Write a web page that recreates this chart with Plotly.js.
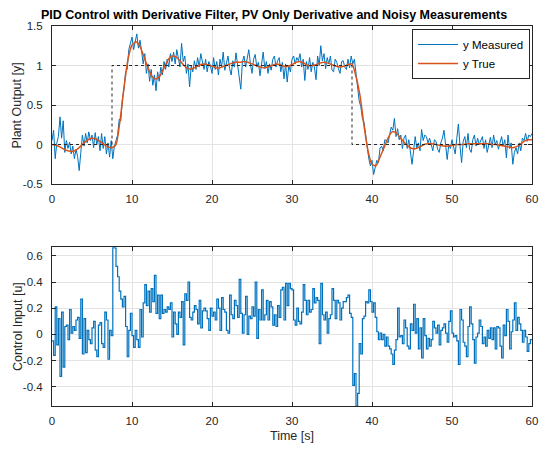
<!DOCTYPE html>
<html>
<head>
<meta charset="utf-8">
<script src="https://cdn.plot.ly/plotly-3.0.1.min.js"></script>
<style>
  html, body { margin: 0; padding: 0; background: #fff; }
  #chart { width: 556px; height: 452px; }
</style>
</head>
<body>
<div id="chart"></div>
<script>
// Sample period of the logged signals (s)
const dt = 0.2;
// Period of the true plant output samples (s)
const dtTrue = 0.5;

// Measured plant output, one row per second (5 samples each)
const yMeasured = [
  0.05, 0.18, -0.18, 0.02, 0.10,
  0.35, 0.08, 0.30, -0.10, 0.05,
  -0.05, 0.03, -0.12, -0.02, -0.18,
  -0.06, -0.15, -0.33, -0.10, 0.12,
  -0.02, 0.14, 0.02, 0.16, 0.05,
  0.12, -0.04, 0.15, 0.00, 0.10,
  -0.08, 0.14, -0.05, 0.10, -0.12,
  0.02, -0.16, 0.05, -0.18, -0.02,
  0.05, 0.12, 0.32, 0.30, 0.58,
  0.70, 0.92, 0.95, 1.20, 1.28,
  1.36, 1.20, 1.33, 1.40, 1.22,
  1.32, 1.18, 1.02, 1.15, 0.90,
  1.02, 0.80, 0.95, 0.75, 0.88,
  0.68, 0.92, 0.80, 0.98, 0.88,
  1.05, 0.95, 1.08, 0.98, 1.15,
  1.05, 1.17, 1.02, 1.20, 1.08,
  0.98, 1.28, 1.05, 1.12, 0.90,
  1.02, 0.73, 1.00, 0.92, 1.06,
  0.95, 1.10, 0.98, 1.15, 1.02,
  0.95, 1.08, 0.92, 1.05, 1.00,
  0.90, 1.10, 0.95, 1.05, 0.88,
  1.08, 0.98, 1.17, 0.94, 1.02,
  1.12, 0.96, 0.88, 1.06, 0.98,
  1.16, 1.00, 0.90, 0.70, 1.05,
  1.12, 0.98, 1.10, 1.20, 1.02,
  0.90, 1.08, 1.14, 0.98, 1.04,
  0.87, 1.00, 1.17, 0.96, 1.05,
  0.90, 1.02, 0.94, 1.08, 1.12,
  0.98, 1.06, 1.10, 0.92, 1.04,
  0.83, 1.02, 0.79, 1.00, 0.92,
  1.08, 1.12, 1.02, 1.10, 1.06,
  1.15, 0.98, 1.08, 0.81, 1.05,
  0.95, 1.10, 0.92, 1.04, 0.98,
  0.82, 1.12, 1.00, 1.25, 1.06,
  1.15, 0.96, 1.10, 1.02, 1.12,
  0.94, 0.92, 1.08, 1.04, 0.96,
  0.90, 1.05, 1.06, 0.98, 0.95,
  1.08, 0.97, 1.12, 1.02, 1.08,
  0.90, 0.78, 0.55, 0.48, 0.33,
  0.28, 0.12, -0.05, -0.18, -0.27,
  -0.20, -0.38, -0.27, -0.20, -0.23,
  -0.05, -0.02, -0.08, 0.06, 0.05,
  0.02, 0.12, 0.22, 0.18, 0.33,
  0.10, 0.20, 0.06, 0.12, -0.05,
  0.08, 0.12, -0.05, 0.06, -0.10,
  -0.25, -0.08, 0.10, -0.05, 0.02,
  -0.08, 0.19, 0.05, 0.12, 0.10,
  0.02, 0.08, -0.02, -0.08, 0.06,
  0.04, -0.06, -0.10, 0.02, 0.08,
  0.18, -0.04, -0.19, 0.00, -0.05,
  0.06, -0.04, -0.12, 0.08, 0.26,
  -0.02, -0.23, 0.04, 0.10, -0.04,
  0.14, -0.06, -0.10, 0.06, 0.12,
  -0.02, 0.08, 0.00, 0.04, 0.10,
  -0.05, 0.06, -0.10, 0.02, 0.09,
  -0.04, 0.12, 0.00, 0.05, -0.06,
  0.04, 0.10, -0.02, 0.06, -0.17,
  0.12, -0.05, 0.02, -0.25, -0.10,
  -0.04, -0.12, 0.02, -0.08, 0.08,
  0.05, 0.14, 0.04, 0.12, 0.10,
  0.14
];

// True (noise-free) plant output, two samples per second
const yTrue = [
  0.00, -0.01, -0.03, -0.06, -0.08, -0.09, -0.07, -0.03, 0.02, 0.06,
  0.08, 0.07, 0.04, 0.00, -0.03, -0.04, 0.00, 0.30, 0.72, 1.08,
  1.26, 1.30, 1.24, 1.11, 0.97, 0.86, 0.83, 0.87, 0.97, 1.07,
  1.12, 1.11, 1.06, 1.00, 0.96, 0.96, 0.98, 1.01, 1.02, 1.01,
  0.99, 0.97, 0.97, 0.99, 1.01, 1.03, 1.04, 1.04, 1.05, 1.04,
  1.02, 1.00, 0.98, 0.97, 0.98, 1.00, 1.02, 1.01, 0.99, 0.99,
  1.01, 1.04, 1.05, 1.03, 1.00, 1.00, 1.01, 1.03, 1.04, 1.03,
  1.01, 0.99, 0.98, 0.99, 1.01, 1.02, 0.86, 0.62, 0.24, -0.08,
  -0.25, -0.27, -0.16, -0.04, 0.08, 0.16, 0.15, 0.09, 0.03, -0.02,
  -0.05, -0.05, -0.03, 0.00, 0.01, 0.01, 0.00, -0.01, -0.02, -0.02,
  -0.01, 0.00, 0.00, 0.00, 0.01, 0.01, 0.01, 0.01, 0.01, 0.01,
  0.00, 0.00, -0.01, -0.02, -0.03, -0.04, -0.03, 0.00, 0.04, 0.06,
  0.06
];

// Setpoint profile (step up at 7.5 s, step down at 37.5 s)
const setpointTime = [0, 7.5, 7.5, 37.5, 37.5, 60];
const setpointValue = [0, 0, 1, 1, 0, 0];

// Controller output u, one row per second (5 samples each)
const controlInput = [
  -0.05, -0.16, 0.21, -0.08, 0.12,
  -0.32, 0.17, -0.25, 0.06, 0.07,
  -0.04, 0.19, 0.01, 0.06, 0.03,
  0.11, 0.13, -0.03, 0.27, -0.15,
  0.12, -0.14, 0.03, -0.04, -0.07,
  0.05, 0.10, -0.12, -0.17, 0.07,
  0.09, -0.07, -0.10, 0.17, 0.11,
  -0.19, 0.03, -0.01, 0.665, 0.66,
  0.52, 0.44, 0.33, 0.27, 0.21,
  0.29, 0.06, -0.17, 0.03, 0.16,
  -0.01, -0.10, 0.03, -0.04, -0.10,
  0.19, -0.02, 0.24, 0.38, 0.22,
  0.33, 0.17, 0.35, 0.25, 0.45,
  0.16, 0.30, 0.12, 0.30, 0.16,
  0.19, 0.17, 0.21, 0.19, 0.24,
  -0.02, 0.17, 0.08, 0.00, 0.17,
  0.13, 0.25, -0.08, 0.31, 0.26,
  0.40, 0.13, 0.11, 0.17, 0.22,
  0.19, 0.08, 0.26, 0.05, 0.18,
  0.20, 0.18, 0.12, 0.03, 0.20,
  0.14, 0.17, 0.11, 0.27, 0.20,
  0.03, 0.28, 0.19, 0.17, 0.03,
  0.01, 0.30, 0.15, 0.12, 0.26,
  0.22, 0.13, 0.42, 0.16, 0.01,
  0.15, 0.29, 0.00, 0.14, 0.12,
  0.21, 0.14, 0.40, -0.03, 0.19,
  0.11, 0.34, 0.11, 0.15, 0.26,
  0.11, 0.25, 0.21, 0.07, 0.15,
  0.06, 0.22, 0.13, 0.34, 0.36,
  0.11, 0.39, 0.22, 0.39, 0.35,
  0.34, 0.11, 0.07, 0.20, 0.10,
  0.08, 0.17, 0.38, 0.26, 0.15,
  0.26, 0.17, 0.19, 0.35, 0.24,
  0.28, 0.26, -0.07, 0.39, 0.15,
  0.11, 0.17, 0.01, 0.12, 0.15,
  0.35, 0.26, 0.12, 0.26, 0.24,
  0.11, 0.20, 0.25, 0.25, 0.28,
  0.30, 0.16, 0.13, -0.39, -0.30,
  -0.547, -0.45, -0.07, -0.15, 0.12,
  0.14, 0.25, 0.24, 0.34, 0.25,
  0.17, 0.24, 0.13, 0.02, -0.04,
  0.01, -0.04, 0.00, -0.09, -0.02,
  -0.09, -0.11, -0.15, -0.23, -0.12,
  -0.04, 0.20, -0.02, -0.01, -0.07,
  0.11, 0.05, -0.09, -0.11, 0.08,
  0.03, 0.23, 0.01, 0.12, -0.11,
  0.05, -0.18, 0.12, -0.01, -0.11,
  -0.03, -0.09, -0.04, 0.10, 0.05,
  0.01, 0.07, -0.08, 0.03, 0.05,
  0.08, 0.01, -0.06, 0.10, 0.18,
  0.01, -0.02, -0.01, -0.05, -0.23,
  0.19, 0.11, -0.06, -0.09, -0.17,
  0.06, 0.21, 0.08, -0.04, -0.22,
  -0.02, 0.01, 0.11, 0.06, -0.07,
  -0.02, -0.09, 0.03, -0.03, 0.05,
  -0.04, 0.05, -0.11, 0.06, 0.05,
  -0.09, -0.18, 0.07, -0.01, 0.19,
  0.10, -0.11, 0.02, 0.11, 0.24,
  0.03, 0.13, 0.08, 0.03, -0.06,
  0.03, -0.02, -0.13, -0.07, -0.04,
  -0.04
];

// Axis tick labels
const timeTicks = [0, 10, 20, 30, 40, 50, 60];
const timeTickText = ['0', '10', '20', '30', '40', '50', '60'];
const outputTicks = [-0.5, 0, 0.5, 1, 1.5];
const outputTickText = ['-0.5', '0', '0.5', '1', '1.5'];
const inputTicks = [-0.4, -0.2, 0, 0.2, 0.4, 0.6];
const inputTickText = ['-0.4', '-0.2', '0', '0.2', '0.4', '0.6'];

// Time bases for the sampled series
const time = yMeasured.map((_, i) => +(i * dt).toFixed(2));
const timeTrue = yTrue.map((_, i) => +(i * dtTrue).toFixed(2));
const timeInput = controlInput.map((_, i) => +(i * dt).toFixed(2));

const BLUE = '#0072BD';
const ORANGE = '#D95319';
const INK = '#262626';
const GRID = '#e3e3e3';
const FONT = 'Liberation Sans, Arial, Helvetica, sans-serif';
const TICK_SIZE = 11.5;
const LABEL_SIZE = 12.5;

// Domains of the two stacked axes (fractions of the plotting area)
const topDomain = [0.5842, 1];
const bottomDomain = [0, 0.4176];

const traces = [
  {
    x: time, y: yMeasured, name: 'y Measured', type: 'scatter', mode: 'lines',
    line: { color: BLUE, width: 1 }, xaxis: 'x', yaxis: 'y'
  },
  {
    x: timeTrue, y: yTrue, name: 'y True', type: 'scatter', mode: 'lines',
    line: { color: ORANGE, width: 1.5, shape: 'spline', smoothing: 0.6 }, xaxis: 'x', yaxis: 'y'
  },
  {
    x: setpointTime, y: setpointValue, name: 'Setpoint', type: 'scatter', mode: 'lines',
    line: { color: INK, width: 1, dash: 'dot' }, showlegend: false, xaxis: 'x', yaxis: 'y'
  },
  {
    x: timeInput, y: controlInput, name: 'u', type: 'scatter', mode: 'lines',
    line: { color: BLUE, width: 1.2, shape: 'hv' }, showlegend: false, xaxis: 'x2', yaxis: 'y2'
  }
];

const axisCommon = {
  showline: true, linecolor: INK, linewidth: 1, mirror: 'ticks',
  ticks: 'inside', ticklen: 4, tickcolor: INK, tickwidth: 1,
  showgrid: true, gridcolor: GRID, gridwidth: 1, zeroline: false,
  tickfont: { family: FONT, size: TICK_SIZE, color: INK }
};

// Vertical axis titles, centred on each axis
const yTitle = (text, domain) => ({
  text: text, textangle: -90, showarrow: false,
  xref: 'paper', yref: 'paper', x: -0.072, y: (domain[0] + domain[1]) / 2,
  xanchor: 'center', yanchor: 'middle',
  font: { family: FONT, size: LABEL_SIZE, color: INK }
});

const layout = {
  width: 556, height: 452,
  margin: { l: 52, r: 24, t: 26, b: 46 },
  paper_bgcolor: '#ffffff', plot_bgcolor: '#ffffff',
  font: { family: FONT, size: TICK_SIZE, color: INK },
  title: {
    text: '<b>PID Control with Derivative Filter, PV Only Derivative and Noisy Measurements</b>',
    font: { family: FONT, size: 12.5, color: '#000000' },
    x: 0.493, xanchor: 'center', xref: 'container',
    y: 0.967, yanchor: 'middle', yref: 'container'
  },
  xaxis: Object.assign({}, axisCommon, {
    domain: [0, 1], anchor: 'y', range: [0, 60], ticklabelstandoff: 4,
    tickvals: timeTicks, ticktext: timeTickText
  }),
  yaxis: Object.assign({}, axisCommon, {
    domain: topDomain, anchor: 'x', range: [-0.5, 1.5], ticklabelstandoff: 6,
    tickvals: outputTicks, ticktext: outputTickText
  }),
  xaxis2: Object.assign({}, axisCommon, {
    domain: [0, 1], anchor: 'y2', range: [0, 60], ticklabelstandoff: 4,
    tickvals: timeTicks, ticktext: timeTickText,
    title: { text: 'Time [s]', font: { family: FONT, size: LABEL_SIZE, color: INK }, standoff: 5 }
  }),
  yaxis2: Object.assign({}, axisCommon, {
    domain: bottomDomain, anchor: 'x2', range: [-0.547, 0.665], ticklabelstandoff: 6,
    tickvals: inputTicks, ticktext: inputTickText
  }),
  annotations: [
    yTitle('Plant Output [y]', topDomain),
    yTitle('Control Input [u]', bottomDomain)
  ],
  legend: {
    x: 0.996, y: 0.992, xanchor: 'right', yanchor: 'top',
    xref: 'paper', yref: 'paper',
    bgcolor: '#ffffff', bordercolor: INK, borderwidth: 1,
    font: { family: FONT, size: 11.5, color: '#000000' },
    itemwidth: 40, tracegroupgap: 0
  },
  showlegend: true
};

Plotly.newPlot('chart', traces, layout, { displayModeBar: false, staticPlot: true });
</script>
</body>
</html>
